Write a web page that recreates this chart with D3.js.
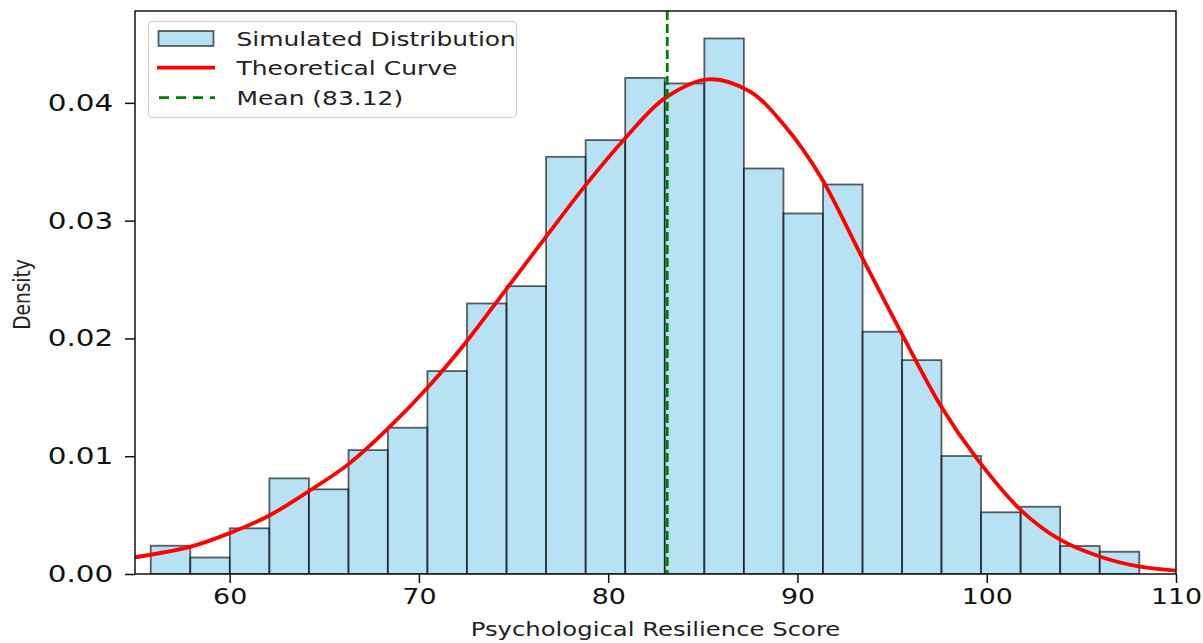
<!DOCTYPE html>
<html>
<head>
<meta charset="utf-8">
<script src="https://cdn.jsdelivr.net/npm/d3@7"></script>
<style>
  body { margin: 0; background: #fff; }
  text { font-family: "DejaVu Sans", sans-serif; fill: #111; }
</style>
</head>
<body>
<script>
// histogram bin edges (score) and density of each bin
var binEdges = [55.83, 57.92, 60.01, 62.10, 64.19, 66.28, 68.36, 70.45, 72.54, 74.63,
                76.72, 78.81, 80.90, 82.99, 85.08, 87.17, 89.26, 91.35, 93.44, 95.53,
                97.61, 99.70, 101.79, 103.88, 105.97, 108.06];
var binDensity = [0.00240, 0.00140, 0.00388, 0.00812, 0.00719, 0.01052, 0.01242, 0.01723,
                  0.02297, 0.02444, 0.03542, 0.03684, 0.04212, 0.04165, 0.04547, 0.03443,
                  0.03061, 0.03307, 0.02057, 0.01816, 0.01002, 0.00524, 0.00571, 0.00238,
                  0.00189];

// theoretical curve, points
var curveX = [55.0, 58.0, 60.0, 62.1, 64.2, 66.3, 68.4, 70.5, 72.5, 74.6, 76.7, 78.8, 80.9,
              83.0, 85.3, 87.5, 89.3, 91.2, 93.4, 95.5, 97.6, 99.5, 101.8, 103.9, 106.0,
              108.1, 110.0];
var curveY = [0.00142, 0.00235, 0.00347, 0.00497, 0.00705, 0.00935, 0.01240, 0.01590,
              0.01970, 0.02415, 0.02860, 0.03300, 0.03700, 0.04040, 0.04200, 0.04095,
              0.03810, 0.03380, 0.02693, 0.02043, 0.01420, 0.00975, 0.00543, 0.00289,
              0.00147, 0.00062, 0.00028];

var meanValue = 83.12;
var xTicks = [60, 70, 80, 90, 100, 110];
var yTicks = [0, 0.01, 0.02, 0.03, 0.04];

var W = 1203, H = 643;
var pLeft = 135, pRight = 1176, pTop = 11, pBottom = 574;
var sx = 1.28; // the picture is stretched sideways, so is the text

var x = d3.scaleLinear().domain([55, 110]).range([pLeft, pRight]);
var y = d3.scaleLinear().domain([0, 0.0478]).range([pBottom, pTop]);

var svg = d3.select("body").append("svg")
    .attr("width", W)
    .attr("height", H);

svg.append("defs").append("clipPath").attr("id", "plot")
  .append("rect")
    .attr("x", pLeft).attr("y", pTop)
    .attr("width", pRight - pLeft).attr("height", pBottom - pTop);

var plot = svg.append("g").attr("clip-path", "url(#plot)");

// bars
var bins = binDensity.map(function(d, i) {
  return {x0: binEdges[i], x1: binEdges[i + 1], v: d};
});
plot.selectAll(".bar")
    .data(bins)
  .enter().append("rect")
    .attr("class", "bar")
    .attr("x", function(d) { return x(d.x0); })
    .attr("width", function(d) { return x(d.x1) - x(d.x0); })
    .attr("y", function(d) { return y(d.v); })
    .attr("height", function(d) { return pBottom - y(d.v); })
    .attr("fill", "#87ceeb")
    .attr("fill-opacity", 0.6)
    .attr("stroke", "#000")
    .attr("stroke-opacity", 0.62)
    .attr("stroke-width", 1.8);

// curve
var line = d3.line()
    .x(function(d) { return x(d[0]); })
    .y(function(d) { return y(d[1]); })
    .curve(d3.curveCatmullRom.alpha(0.5));
plot.append("path")
    .datum(d3.zip(curveX, curveY))
    .attr("d", line)
    .attr("fill", "none")
    .attr("stroke", "#ff0000")
    .attr("stroke-width", 3.8);

// mean line
plot.append("line")
    .attr("x1", x(meanValue)).attr("x2", x(meanValue))
    .attr("y1", pTop).attr("y2", pBottom)
    .attr("stroke", "#008000")
    .attr("stroke-width", 2.8)
    .attr("stroke-dasharray", "9,4");

// axes
var xAxis = svg.append("g")
    .attr("transform", "translate(0," + pBottom + ")")
    .call(d3.axisBottom(x).tickValues(xTicks).tickSize(9).tickPadding(5).tickFormat(d3.format("d")));
xAxis.select(".domain").remove();
xAxis.selectAll(".tick line").attr("stroke", "#111").attr("stroke-width", 1.5);
xAxis.selectAll(".tick text")
    .style("font-size", "22px")
    .attr("transform", "scale(1.22,1)");

var yAxis = svg.append("g")
    .attr("transform", "translate(" + pLeft + ",0)")
    .call(d3.axisLeft(y).tickValues(yTicks).tickSize(10).tickFormat(d3.format(".2f")));
yAxis.select(".domain").remove();
yAxis.selectAll(".tick line").attr("stroke", "#111").attr("stroke-width", 1.5);
yAxis.selectAll(".tick text")
    .style("font-size", "23px")
    .attr("x", -17)
    .attr("transform", "scale(" + sx + ",1)");

// frame
svg.append("rect")
    .attr("x", pLeft).attr("y", pTop)
    .attr("width", pRight - pLeft).attr("height", pBottom - pTop)
    .attr("fill", "none")
    .attr("stroke", "#111")
    .attr("stroke-width", 1.5);

// axis titles
svg.append("text")
    .attr("transform", "translate(" + ((pLeft + pRight) / 2) + ",636) scale(" + sx + ",1)")
    .attr("text-anchor", "middle")
    .style("font-size", "19px")
    .style("fill", "#222")
    .text("Psychological Resilience Score");

svg.append("text")
    .attr("transform", "translate(29.5," + ((pTop + pBottom) / 2 + 2) + ") scale(" + sx + ",1) rotate(-90)")
    .attr("text-anchor", "middle")
    .style("font-size", "18.5px")
    .style("fill", "#222")
    .text("Density");

// legend
var lg = svg.append("g");
lg.append("rect")
    .attr("x", 148.5).attr("y", 21.5)
    .attr("width", 368).attr("height", 96)
    .attr("rx", 4)
    .attr("fill", "#fff").attr("fill-opacity", 0.85)
    .attr("stroke", "#d4d4d4").attr("stroke-width", 1.3);

lg.append("rect")
    .attr("x", 158.5).attr("y", 31)
    .attr("width", 55).attr("height", 15)
    .attr("fill", "#87ceeb").attr("fill-opacity", 0.6)
    .attr("stroke", "#000").attr("stroke-opacity", 0.62).attr("stroke-width", 1.8);
lg.append("line")
    .attr("x1", 157).attr("x2", 215).attr("y1", 67.7).attr("y2", 67.7)
    .attr("stroke", "#ff0000").attr("stroke-width", 3.8);
lg.append("line")
    .attr("x1", 159).attr("x2", 215).attr("y1", 97.7).attr("y2", 97.7)
    .attr("stroke", "#008000").attr("stroke-width", 2.8)
    .attr("stroke-dasharray", "10,7");

var legendLabels = ["Simulated Distribution", "Theoretical Curve", "Mean (" + meanValue.toFixed(2) + ")"];
lg.selectAll(".lt")
    .data(legendLabels)
  .enter().append("text")
    .attr("class", "lt")
    .attr("transform", function(d, i) { return "translate(236.5," + (45.5 + i * 29.7) + ") scale(" + sx + ",1)"; })
    .style("font-size", "19.5px")
    .style("fill", "#222")
    .text(function(d) { return d; });
</script>
</body>
</html>
